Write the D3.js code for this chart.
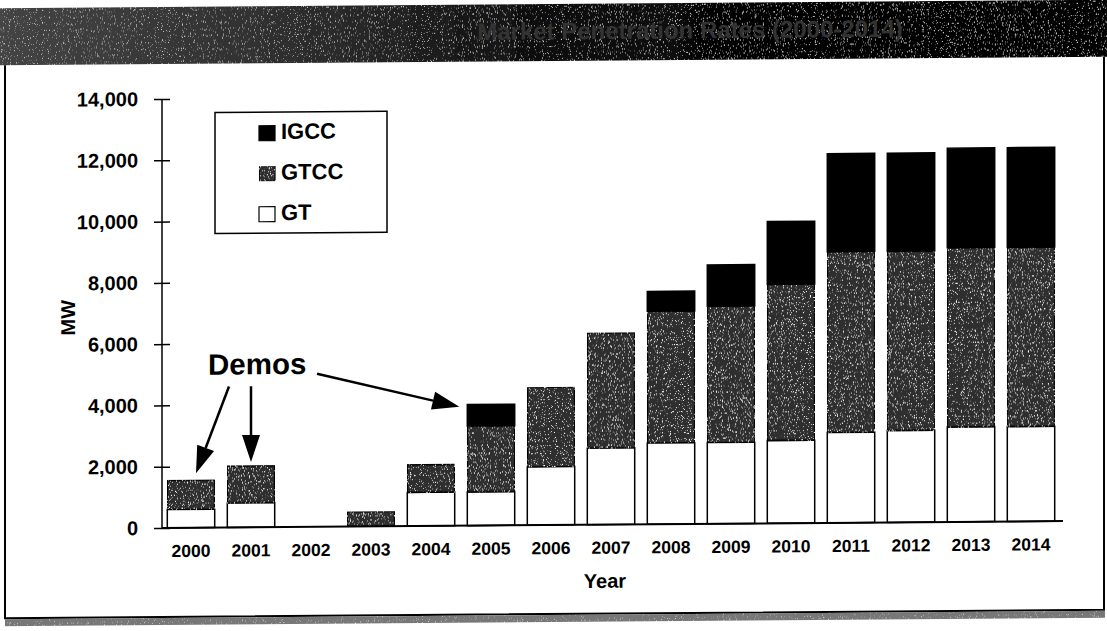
<!DOCTYPE html>
<html>
<head>
<meta charset="utf-8">
<script src="https://cdn.jsdelivr.net/npm/d3@7"></script>
<style>
  html, body { margin: 0; padding: 0; background: #fff; }
  svg { display: block; font-family: "Liberation Sans", Arial, Helvetica, sans-serif; }
</style>
</head>
<body>
<svg id="chart" width="1107" height="631"></svg>
<script>
// Installed capacity by technology, MW
const years = ["2000","2001","2002","2003","2004","2005","2006","2007","2008","2009","2010","2011","2012","2013","2014"];
const gtValues   = [600,  800, 0,   0, 1100, 1100, 1900, 2500, 2650, 2650, 2700, 2950, 3000, 3100, 3100];
const gtccValues = [950, 1200, 0, 480,  900, 2150, 2600, 3750, 4300, 4450, 5100, 5900, 5850, 5850, 5850];
const igccValues = [  0,    0, 0,   0,    0,  700,    0,    0,  650, 1350, 2050, 3200, 3200, 3250, 3250];
const seriesKeys = ["GT", "GTCC", "IGCC"];
const legendLabels = ["IGCC", "GTCC", "GT"];
const yTicks = [0, 2000, 4000, 6000, 8000, 10000, 12000, 14000];
const demoYears = ["2000", "2001", "2005"];
const titleText = "Market Penetration Rates (2000-2014)";

const svg = d3.select("#chart");
const defs = svg.append("defs");

// speckle textures: light specks scattered over a dark fill
function speckleFilter(id, seed, cut, tone) {
  const f = defs.append("filter").attr("id", id)
    .attr("x", 0).attr("y", 0).attr("width", "100%").attr("height", "100%");
  f.append("feTurbulence").attr("type", "fractalNoise").attr("baseFrequency", 0.85)
    .attr("numOctaves", 2).attr("seed", seed).attr("result", "noise");
  f.append("feColorMatrix").attr("in", "noise").attr("type", "matrix")
    .attr("values", `0 0 0 0 ${tone}  0 0 0 0 ${tone}  0 0 0 0 ${tone}  6 0 0 0 ${-cut}`).attr("result", "specks");
  f.append("feComposite").attr("in", "specks").attr("in2", "SourceGraphic")
    .attr("operator", "in").attr("result", "clipped");
  const m = f.append("feMerge");
  m.append("feMergeNode").attr("in", "SourceGraphic");
  m.append("feMergeNode").attr("in", "clipped");
}
speckleFilter("grain", 7, 3.75, 1);
speckleFilter("grainBanner", 3, 3.9, 0.6);

const bannerGrad = defs.append("linearGradient").attr("id", "bannerGrad")
  .attr("x1", 0).attr("x2", 1).attr("y1", 0).attr("y2", 0);
[[0, "#444"], [0.3, "#2a2a2a"], [0.5, "#0c0c0c"], [0.7, "#030303"], [1, "#000"]]
  .forEach(([o, c]) => bannerGrad.append("stop").attr("offset", o).attr("stop-color", c));

const fills = { GT: "#ffffff", GTCC: "#2e2e2e", IGCC: "#000000" };

// whole sheet sits with a slight slant
const skewDeg = -0.44;
const axisX = 162;
const root = svg.append("g")
  .attr("transform", `translate(0,${-axisX * Math.tan(skewDeg * Math.PI / 180)}) skewY(${skewDeg})`);

// header banner
root.append("rect").attr("x", 0).attr("y", 7).attr("width", 1107).attr("height", 57)
  .attr("fill", "url(#bannerGrad)").attr("filter", "url(#grainBanner)");
root.append("text").attr("x", 690).attr("y", 36).attr("text-anchor", "middle")
  .attr("dominant-baseline", "middle").attr("font-size", 24).attr("font-weight", "bold")
  .attr("fill", "#333").text(titleText);

// frame
root.append("path").attr("d", "M5,64 V617 H1104 V64").attr("fill", "none")
  .attr("stroke", "#000").attr("stroke-width", 2);
root.append("rect").attr("x", 5).attr("y", 618).attr("width", 1100).attr("height", 7)
  .attr("fill", "#777").attr("filter", "url(#grainBanner)");

// scales
const x = d3.scaleBand().domain(years).range([161, 1061]).paddingInner(0.21).paddingOuter(0.105);
const y = d3.scaleLinear().domain([0, 14000]).range([528, 99]);

const table = years.map((yr, i) => ({ year: yr, GT: gtValues[i], GTCC: gtccValues[i], IGCC: igccValues[i] }));
const stacked = d3.stack().keys(seriesKeys)(table);

// bars
const barsG = root.append("g");
stacked.forEach(layer => {
  barsG.append("g").selectAll("rect")
    .data(layer.filter(d => d[1] - d[0] > 0))
    .join("rect")
    .attr("x", d => x(d.data.year))
    .attr("width", x.bandwidth())
    .attr("y", d => y(d[1]))
    .attr("height", d => y(d[0]) - y(d[1]))
    .attr("fill", fills[layer.key])
    .attr("stroke", "#000")
    .attr("stroke-width", 1.5)
    .attr("filter", layer.key === "GTCC" ? "url(#grain)" : null);
});

// y axis
const yAxis = root.append("g").attr("transform", `translate(${axisX},0)`)
  .call(d3.axisLeft(y).tickValues(yTicks).tickFormat(d3.format(",")).tickSize(8));
yAxis.select(".domain").remove();
yAxis.selectAll(".tick line").attr("x1", 8).attr("stroke", "#000").attr("stroke-width", 1.5);
yAxis.selectAll(".tick text").attr("x", -24).attr("font-size", 20).attr("font-weight", "bold")
  .attr("font-family", "'Liberation Sans', Arial, sans-serif").attr("fill", "#000");
yAxis.append("line").attr("x1", 0).attr("x2", 0).attr("y1", y(14000)).attr("y2", y(0))
  .attr("stroke", "#000").attr("stroke-width", 1.5);

// x axis
const xAxis = root.append("g").attr("transform", `translate(0,${y(0)})`)
  .call(d3.axisBottom(x).tickSize(0).tickPadding(0));
xAxis.select(".domain").remove();
xAxis.append("line").attr("x1", axisX).attr("x2", 1063).attr("y1", 0).attr("y2", 0)
  .attr("stroke", "#000").attr("stroke-width", 2);
xAxis.selectAll(".tick text").attr("y", 23).attr("dy", "0.35em").attr("font-size", 17.5)
  .attr("font-weight", "bold").attr("font-family", "'Liberation Sans', Arial, sans-serif").attr("fill", "#000");

// axis titles
root.append("text").attr("transform", "translate(70,317) rotate(-90)")
  .attr("text-anchor", "middle").attr("dominant-baseline", "middle")
  .attr("font-size", 20).attr("font-weight", "bold").text("MW");
root.append("text").attr("x", 605).attr("y", 586).attr("text-anchor", "middle")
  .attr("dominant-baseline", "middle").attr("font-size", 20).attr("font-weight", "bold").text("Year");

// legend
const legend = root.append("g");
legend.append("rect").attr("x", 215).attr("y", 113).attr("width", 172).attr("height", 121)
  .attr("fill", "#fff").attr("stroke", "#000").attr("stroke-width", 1.5);
legendLabels.forEach((key, i) => {
  const cy = 134 + i * 40.5;
  legend.append("rect").attr("x", 259).attr("y", cy - 7.5).attr("width", 16).attr("height", 15)
    .attr("fill", fills[key]).attr("stroke", "#000").attr("stroke-width", 1.2)
    .attr("filter", key === "GTCC" ? "url(#grain)" : null);
  legend.append("text").attr("x", 281).attr("y", cy).attr("dominant-baseline", "middle")
    .attr("font-size", 22).attr("font-weight", "bold").text(key);
});

// "Demos" callout with arrows to the demonstration-year bars
const ann = root.append("g");
ann.append("text").attr("x", 208).attr("y", 375).attr("font-size", 29.5)
  .attr("font-weight", "bold").text("Demos");

const totalOf = yr => { const i = years.indexOf(yr); return gtValues[i] + gtccValues[i] + igccValues[i]; };
const arrows = [
  { from: [229, 387], tip: [x(demoYears[0]) + x.bandwidth() / 2 + 5, y(totalOf(demoYears[0])) - 7] },
  { from: [251, 387], tip: [x(demoYears[1]) + x.bandwidth() / 2, y(totalOf(demoYears[1])) - 4] },
  { from: [317, 375], tip: [x(demoYears[2]) - 8, y(totalOf(demoYears[2])) + 2] }
];
arrows.forEach(a => {
  const [x0, y0] = a.from, [x1, y1] = a.tip;
  const len = Math.hypot(x1 - x0, y1 - y0);
  const ux = (x1 - x0) / len, uy = (y1 - y0) / len;
  const headLen = 27, headHalf = 9;
  const bx = x1 - ux * headLen, by = y1 - uy * headLen;
  ann.append("line").attr("x1", x0).attr("y1", y0).attr("x2", bx).attr("y2", by)
    .attr("stroke", "#000").attr("stroke-width", 2.5);
  ann.append("path")
    .attr("d", `M${x1},${y1} L${bx - uy * headHalf},${by + ux * headHalf} L${bx + uy * headHalf},${by - ux * headHalf} Z`)
    .attr("fill", "#000");
});
</script>
</body>
</html>
